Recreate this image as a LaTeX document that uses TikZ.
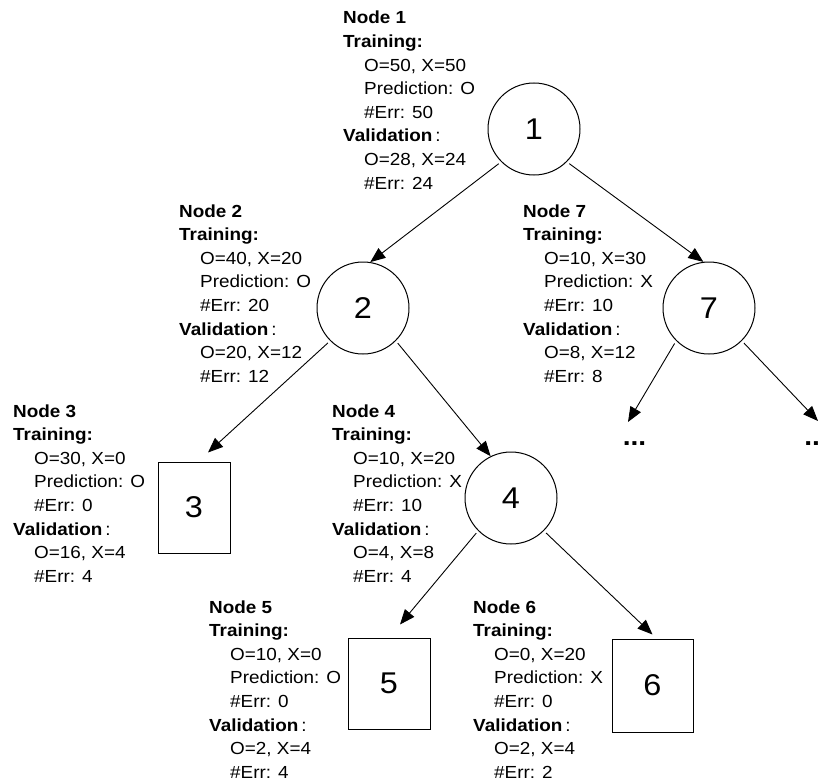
\documentclass[tikz,border=0pt]{standalone}
\usepackage{fontspec}
\setmainfont{Liberation Sans}[FakeStretch=1.08]
\usetikzlibrary{arrows.meta}
\newcommand\tabind{\hspace*{21pt}}
\begin{document}
\begin{tikzpicture}[x=1pt,y=-1pt,
  info/.style={anchor=base west, inner sep=0pt, font=\fontsize{17.5}{23.6}\selectfont},
  split/.style={circle, draw, line width=1pt, minimum size=92pt, inner sep=0pt,
                font=\fontsize{30}{30}\selectfont},
  leaf/.style={rectangle, draw, line width=1pt, minimum height=91pt, inner sep=0pt,
               font=\fontsize{30}{30}\selectfont},
  edge/.style={-{Triangle[length=15pt,width=12pt]}, line width=0.9pt, shorten <=3pt},
  more/.style={font=\fontsize{26}{26}\selectfont\bfseries, inner sep=0pt}]
\clip (0,0) rectangle (819,784);

% tree nodes
\node[split] (n1) at (534,129) {1};
\node[split] (n2) at (363,308) {2};
\node[split] (n7) at (709,308) {7};
\node[leaf, minimum width=72pt] (n3) at (194,507.5) {3};
\node[split] (n4) at (511,498) {4};
\node[leaf, minimum width=82pt] (n5) at (389,683.5) {5};
\node[leaf, minimum width=81pt, minimum height=93pt] (n6) at (652.5,685.5) {6};

% unexpanded subtrees below node 7
\node[more] (d1) at (634.5,444) {...};
\node[more] (d2) at (816,444) {...};
\coordinate (e1) at (628,422);
\coordinate (e2) at (818,421);

% statistics of each node
\node[info] (t1) at (343,24) {\begin{tabular}[t]{@{}l@{}}
\textbf{Node 1}\\
\textbf{Training:}\\
\tabind O=50, X=50\\
\tabind Prediction: O\\
\tabind \#Err: 50\\
\textbf{Validation}\,:\\
\tabind O=28, X=24\\
\tabind \#Err: 24
\end{tabular}};

\node[info] (t2) at (179,217) {\begin{tabular}[t]{@{}l@{}}
\textbf{Node 2}\\
\textbf{Training:}\\
\tabind O=40, X=20\\
\tabind Prediction: O\\
\tabind \#Err: 20\\
\textbf{Validation}\,:\\
\tabind O=20, X=12\\
\tabind \#Err: 12
\end{tabular}};

\node[info] (t3) at (13,417) {\begin{tabular}[t]{@{}l@{}}
\textbf{Node 3}\\
\textbf{Training:}\\
\tabind O=30, X=0\\
\tabind Prediction: O\\
\tabind \#Err: 0\\
\textbf{Validation}\,:\\
\tabind O=16, X=4\\
\tabind \#Err: 4
\end{tabular}};

\node[info] (t4) at (332,417) {\begin{tabular}[t]{@{}l@{}}
\textbf{Node 4}\\
\textbf{Training:}\\
\tabind O=10, X=20\\
\tabind Prediction: X\\
\tabind \#Err: 10\\
\textbf{Validation}\,:\\
\tabind O=4, X=8\\
\tabind \#Err: 4
\end{tabular}};

\node[info] (t5) at (209,613) {\begin{tabular}[t]{@{}l@{}}
\textbf{Node 5}\\
\textbf{Training:}\\
\tabind O=10, X=0\\
\tabind Prediction: O\\
\tabind \#Err: 0\\
\textbf{Validation}\,:\\
\tabind O=2, X=4\\
\tabind \#Err: 4
\end{tabular}};

\node[info] (t6) at (473,613) {\begin{tabular}[t]{@{}l@{}}
\textbf{Node 6}\\
\textbf{Training:}\\
\tabind O=0, X=20\\
\tabind Prediction: X\\
\tabind \#Err: 0\\
\textbf{Validation}\,:\\
\tabind O=2, X=4\\
\tabind \#Err: 2
\end{tabular}};

\node[info] (t7) at (523,217) {\begin{tabular}[t]{@{}l@{}}
\textbf{Node 7}\\
\textbf{Training:}\\
\tabind O=10, X=30\\
\tabind Prediction: X\\
\tabind \#Err: 10\\
\textbf{Validation}\,:\\
\tabind O=8, X=12\\
\tabind \#Err: 8
\end{tabular}};

% branches
\draw[edge] (n1.225) -- (n2.81);
\draw[edge] (n1.-45) -- (n7.97);
\draw[edge] (n2.225) -- ([xshift=14pt,yshift=9pt]n3.north);
\draw[edge] (n2.-45) -- (n4.116);
\draw[edge] (n4.225) -- ([xshift=11pt,yshift=13pt]n5.north);
\draw[edge] (n4.-45) -- ([yshift=4pt]n6.north);
\draw[edge] (n7.225) -- (e1);
\draw[edge] (n7.-45) -- (e2);
\end{tikzpicture}
\end{document}
